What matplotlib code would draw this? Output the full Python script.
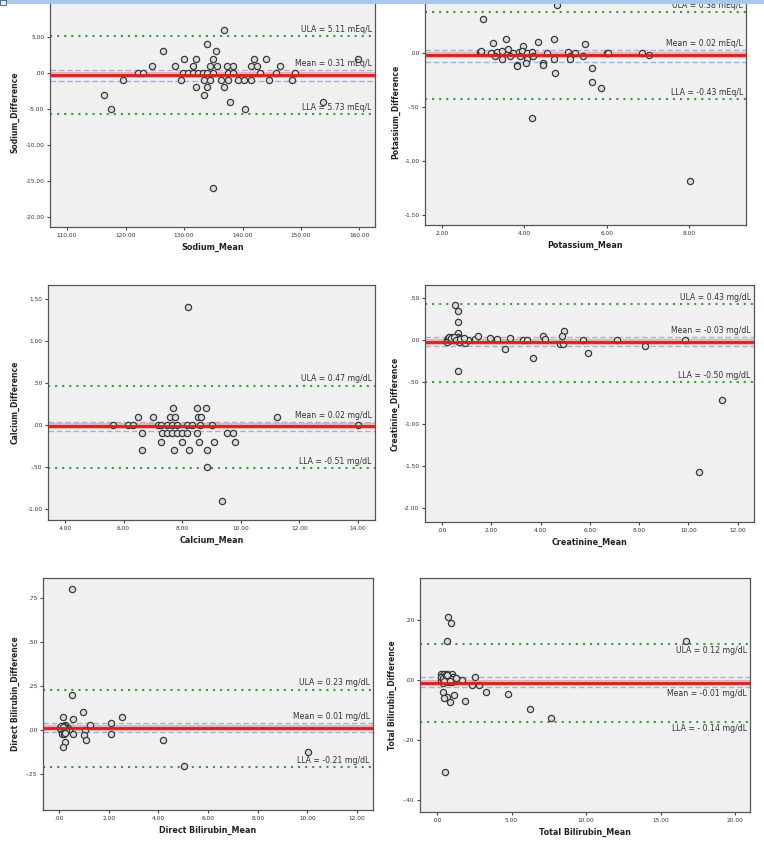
import matplotlib
matplotlib.use("Agg")
import matplotlib.pyplot as plt
from matplotlib.patches import Rectangle

# ---- data (mean of two methods, difference) ----
sodium_mean = [136.9, 133.9, 126.4, 135.5, 130.0, 132.0, 135.0, 142.0, 144.0, 159.8,
               124.5, 128.5, 131.5, 134.4, 135.6, 137.4, 138.4, 141.4, 142.4, 146.4,
               122.2, 123.0, 129.9, 130.7, 131.5, 132.4, 133.2, 134.0, 135.0, 137.5,
               138.4, 143.0, 145.8, 149.0,
               119.5, 129.5, 133.5, 134.4, 136.4, 137.5, 139.3, 140.3, 141.5, 144.5, 148.4,
               132.0, 134.0, 136.9, 116.4, 133.5, 137.9, 153.8, 117.5, 140.4, 134.9]
sodium_diff = [6, 4, 3, 3, 2, 2, 2, 2, 2, 2,
               1, 1, 1, 1, 1, 1, 1, 1, 1, 1,
               0, 0, 0, 0, 0, 0, 0, 0, 0, 0,
               0, 0, 0, 0,
               -1, -1, -1, -1, -1, -1, -1, -1, -1, -1, -1,
               -2, -2, -2, -3, -3, -4, -4, -5, -5, -16]

potassium_mean = [4.80, 2.99, 3.54, 4.33, 4.72, 3.24, 3.61, 3.97, 5.47,
                  2.93, 2.94, 3.20, 3.33, 3.45, 3.73, 3.86, 3.94, 4.06, 4.17, 4.55,
                  5.06, 5.22, 5.99, 6.85, 6.02,
                  3.28, 3.65, 3.89, 4.21, 5.10, 5.43, 7.01,
                  3.45, 4.06, 4.72, 5.10,
                  4.03, 4.44, 3.83, 4.46, 3.81,
                  5.64, 4.74, 5.63, 5.85, 4.18, 8.02]
potassium_diff = [0.44, 0.31, 0.13, 0.10, 0.13, 0.09, 0.04, 0.06, 0.08,
                  0.01, 0.02, 0.0, 0.01, 0.02, 0.0, 0.01, 0.02, 0.0, 0.01, 0.0,
                  0.01, 0.0, 0.0, 0.0, 0.0,
                  -0.03, -0.03, -0.03, -0.03, -0.03, -0.03, -0.02,
                  -0.06, -0.06, -0.06, -0.06,
                  -0.09, -0.09, -0.11, -0.11, -0.125,
                  -0.14, -0.19, -0.27, -0.32, -0.60, -1.19]

calcium_mean = [8.19,
                7.68, 8.49, 8.80,
                6.50, 7.01, 7.58, 7.75, 8.55, 8.63, 11.22,
                5.65, 6.16, 6.33, 7.18, 7.29, 7.47, 7.64, 7.81, 8.15, 8.32, 8.61, 9.01, 14.01,
                6.62, 7.30, 7.47, 7.64, 7.81, 7.98, 8.15, 8.52, 9.52, 9.74,
                7.27, 7.98, 8.57, 9.10, 9.80,
                6.62, 7.72, 8.23, 8.86,
                8.83, 9.35]
calcium_diff = [1.4,
                0.2, 0.2, 0.2,
                0.1, 0.1, 0.1, 0.1, 0.1, 0.1, 0.1,
                0.0, 0.0, 0.0, 0.0, 0.0, 0.0, 0.0, 0.0, 0.0, 0.0, 0.0, 0.0, 0.0,
                -0.1, -0.1, -0.1, -0.1, -0.1, -0.1, -0.1, -0.1, -0.1, -0.1,
                -0.2, -0.2, -0.2, -0.2, -0.2,
                -0.3, -0.3, -0.3, -0.3,
                -0.5, -0.9]

creatinine_mean = [0.53, 0.66, 0.64, 0.66, 0.64,
                   0.19, 0.25, 0.30, 0.35, 0.40, 0.45, 0.50, 0.55, 0.60, 0.65, 0.70, 0.75,
                   0.80, 0.86, 0.20, 0.68, 0.95, 1.07, 1.34,
                   0.28, 0.38, 0.48, 0.58, 0.72, 0.90,
                   1.47, 1.95, 2.22, 2.76, 2.56, 3.30, 3.44, 3.70, 4.11, 4.18, 4.95, 4.86,
                   4.79, 4.92, 5.73, 5.94, 7.10, 8.25, 9.87, 10.41, 11.36]
creatinine_diff = [0.42, 0.34, 0.22, 0.08, -0.365,
                   0.0, 0.02, 0.01, 0.0, 0.03, 0.01, 0.0, 0.02, 0.01, 0.03, 0.0, 0.02,
                   0.01, 0.0, -0.02, -0.02, -0.03, 0.0, 0.01,
                   0.03, 0.02, 0.03, 0.0, 0.01, 0.02,
                   0.05, 0.02, 0.01, 0.02, -0.11, 0.0, 0.0, -0.22, 0.05, 0.01, 0.11, 0.05,
                   -0.05, -0.05, 0.0, -0.16, 0.0, -0.07, 0.0, -1.575, -0.72]

dbil_mean = [0.51, 0.54, 0.95, 2.52, 0.17, 0.58, 2.08, 1.25,
             0.08, 0.10, 0.12, 0.15, 0.18, 0.20, 0.22, 0.25, 0.28, 0.30, 0.12, 0.18,
             0.35, 0.40, 0.26, 0.06, 0.14, 0.22, 0.30, 0.10, 0.20, 0.16, 0.24,
             0.58, 1.05, 1.02, 2.08, 1.09, 0.24, 0.15, 4.20, 5.03, 10.03]
dbil_diff = [0.80, 0.20, 0.10, 0.076, 0.076, 0.06, 0.04, 0.028,
             0.0, 0.01, -0.01, 0.0, 0.02, 0.0, -0.01, 0.01, 0.0, 0.02, 0.02, -0.015,
             0.01, 0.0, 0.03, 0.01, -0.02, 0.025, -0.005, 0.025, -0.02, 0.015, -0.015,
             -0.025, 0.0, -0.03, -0.025, -0.057, -0.066, -0.095, -0.057, -0.205, -0.127]

tbil_mean = [0.72, 0.94, 0.67, 16.73,
             0.25, 0.35, 0.45, 0.55, 0.62, 0.70, 0.80, 0.90, 1.00, 1.10, 0.30, 0.50,
             0.65, 0.85, 1.20, 1.35, 1.50, 1.68, 0.40, 0.75, 0.30, 1.00,
             0.38, 0.58, 0.78, 0.95, 0.48, 0.68, 0.88, 1.28,
             2.57, 2.35, 2.80, 3.29, 4.77, 0.38, 0.67, 1.12, 0.45, 0.89, 1.90,
             6.26, 7.65, 0.56]
tbil_diff = [0.211, 0.191, 0.131, 0.131,
             0.02, 0.015, 0.02, 0.01, 0.018, 0.02, 0.01, 0.015, 0.02, 0.01, 0.0, 0.005,
             0.0, 0.0, 0.005, 0.0, 0.0, 0.0, -0.01, -0.008, 0.01, -0.005,
             0.008, 0.012, 0.006, 0.004, -0.004, 0.016, -0.002, 0.008,
             0.009, -0.017, -0.017, -0.039, -0.048, -0.04, -0.055, -0.05, -0.061, -0.072, -0.069,
             -0.098, -0.128, -0.308]

# limits of agreement: ULA, LLA, mean, upper/lower CI of mean
sodium_lines = [5.11, -5.73, -0.25, 0.35, -1.05]
potassium_lines = [0.38, -0.43, -0.02, 0.03, -0.08]
calcium_lines = [0.47, -0.51, -0.01, 0.04, -0.07]
creatinine_lines = [0.43, -0.50, -0.02, 0.03, -0.07]
dbil_lines = [0.23, -0.21, 0.01, 0.04, -0.01]
tbil_lines = [0.12, -0.14, -0.01, 0.011, -0.022]

sodium_text = ["ULA = 5.11 mEq/L", "Mean = 0.31 mEq/L", "LLA = 5.73 mEq/L"]
potassium_text = ["ULA = 0.38 mEq/L", "Mean = 0.02 mEq/L", "LLA = -0.43 mEq/L"]
calcium_text = ["ULA = 0.47 mg/dL", "Mean = 0.02 mg/dL", "LLA = -0.51 mg/dL"]
creatinine_text = ["ULA = 0.43 mg/dL", "Mean = -0.03 mg/dL", "LLA = -0.50 mg/dL"]
dbil_text = ["ULA = 0.23 mg/dL", "Mean = 0.01 mg/dL", "LLA = -0.21 mg/dL"]
tbil_text = ["ULA = 0.12 mg/dL", "Mean = -0.01 mg/dL", "LLA = - 0.14 mg/dL"]


def spss_fmt(v):
    s = f"{v:.2f}"
    if s.startswith("0."):
        s = s[1:]
    elif s.startswith("-0."):
        s = "-" + s[2:]
    return s


W, H = 764, 844
fig = plt.figure(figsize=(W / 100, H / 100), dpi=100)
fig.patch.set_facecolor("white")

panels = [
    dict(box=(50, 375, -2, 227), x=sodium_mean, y=sodium_diff, lines=sodium_lines, text=sodium_text,
         name="Sodium", xlim=(107.09, 162.65), ylim=(-21.39, 10.42),
         xt=[110, 120, 130, 140, 150, 160], yt=[-20, -15, -10, -5, 0, 5, 10], below=False, yl=30),
    dict(box=(425, 746, -2, 225), x=potassium_mean, y=potassium_diff, lines=potassium_lines, text=potassium_text,
         name="Potassium", xlim=(1.588, 9.37), ylim=(-1.593, 0.509),
         xt=[2, 4, 6, 8], yt=[-1.5, -1.0, -0.5, 0.0], below=False, yl=25),
    dict(box=(48, 375, 285, 520), x=calcium_mean, y=calcium_diff, lines=calcium_lines, text=calcium_text,
         name="Calcium", xlim=(3.42, 14.58), ylim=(-1.131, 1.667),
         xt=[4, 6, 8, 10, 12, 14], yt=[-1.0, -0.5, 0.0, 0.5, 1.0, 1.5], below=False, yl=28),
    dict(box=(425, 754, 285, 522), x=creatinine_mean, y=creatinine_diff, lines=creatinine_lines, text=creatinine_text,
         name="Creatinine", xlim=(-0.69, 12.66), ylim=(-2.167, 0.655),
         xt=[0, 2, 4, 6, 8, 10, 12], yt=[-2.0, -1.5, -1.0, -0.5, 0.0, 0.5], below=False, yl=25),
    dict(box=(43, 373, 578, 810), x=dbil_mean, y=dbil_diff, lines=dbil_lines, text=dbil_text,
         name="Direct Bilirubin", xlim=(-0.644, 12.64), ylim=(-0.4545, 0.864),
         xt=[0, 2, 4, 6, 8, 10, 12], yt=[-0.25, 0.0, 0.25, 0.5, 0.75], below=False, yl=23),
    dict(box=(420, 750, 578, 812), x=tbil_mean, y=tbil_diff, lines=tbil_lines, text=tbil_text,
         name="Total Bilirubin", xlim=(-1.14, 21.0), ylim=(-0.44, 0.34),
         xt=[0, 5, 10, 15, 20], yt=[-0.4, -0.2, 0.0, 0.2], below=True, yl=23),
]

green = "#3c9a3c"
for p in panels:
    l, r, t, b = p["box"]
    ax = fig.add_axes([l / W, 1 - b / H, (r - l) / W, (b - t) / H])
    ax.set_facecolor("#f0f0f0")
    for sp in ax.spines.values():
        sp.set_color("#555555")
        sp.set_linewidth(0.9)

    ula, lla, mean, ci_hi, ci_lo = p["lines"]
    ax.axhline(ula, color=green, lw=1.5, ls=(0, (1, 2.4)), zorder=2)
    ax.axhline(lla, color=green, lw=1.5, ls=(0, (1, 2.4)), zorder=2)
    ax.axhline(ci_hi, color="#a9aee0", lw=1.0, ls=(0, (4, 2)), zorder=2)
    ax.axhline(ci_lo, color="#a9aee0", lw=1.0, ls=(0, (4, 2)), zorder=2)
    ax.axhline(mean, color="#e6a3a3", lw=4.5, zorder=2, alpha=0.8)
    ax.axhline(mean, color="#d42020", lw=2.0, zorder=4)

    ax.scatter(p["x"], p["y"], s=20, facecolor="#dddddd", edgecolor="#3a3a3a",
               linewidth=0.9, zorder=3)

    # reference text
    if p["below"]:
        offs = [(ula, -1), (ci_lo, -1), (lla, -1)]
    else:
        offs = [(ula, 1), (ci_hi, 1), (lla, 1)]
    for (yv, sgn), s in zip(offs, p["text"]):
        ax.annotate(s, xy=(0.99, yv), xycoords=ax.get_yaxis_transform(),
                    xytext=(0, 1.5 * sgn), textcoords="offset points",
                    ha="right", va="bottom" if sgn > 0 else "top",
                    fontsize=5.6, color="#333333", zorder=5)

    ax.set_xlim(*p["xlim"])
    ax.set_ylim(*p["ylim"])
    ax.set_xticks(p["xt"])
    ax.set_xticklabels([spss_fmt(v) for v in p["xt"]])
    ax.set_yticks(p["yt"])
    ax.set_yticklabels([spss_fmt(v) for v in p["yt"]])
    ax.tick_params(length=2.5, width=0.8, color="#444444", labelsize=4.2, pad=1.5,
                   labelcolor="#333333")

    ax.set_xlabel(p["name"] + "_Mean", fontsize=5.8, fontweight="bold", color="#222222")
    ax.set_ylabel(p["name"] + "_Difference", fontsize=5.5, fontweight="bold", color="#222222")
    ax.xaxis.set_label_coords(0.5, -16 / (b - t))
    ax.yaxis.set_label_coords(-p["yl"] / (r - l), 0.5)

# blue window strip across the top
fig.patches.append(Rectangle((0, 1 - 4 / H), 1, 4 / H, transform=fig.transFigure,
                             facecolor="#a8c8ec", edgecolor="none", zorder=10))
fig.patches.append(Rectangle((0, 1 - 5 / H), 6 / W, 5 / H, transform=fig.transFigure,
                             facecolor="#e8eef8", edgecolor="#445577", lw=0.6, zorder=11))

fig.savefig("out.png", dpi=100)
